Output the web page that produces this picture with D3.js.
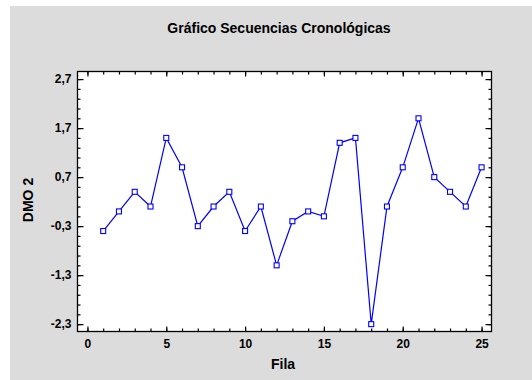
<!DOCTYPE html>
<html>
<head>
<meta charset="utf-8">
<script src="https://cdn.jsdelivr.net/npm/d3@7/dist/d3.min.js"></script>
<style>
  html, body { margin: 0; padding: 0; background: #ffffff; }
  svg { display: block; }
  text { font-family: "Liberation Sans", Arial, sans-serif; font-weight: bold; fill: #000; }
</style>
</head>
<body>
<svg id="chart" width="532" height="380"></svg>
<script>
// Series: DMO 2 per row (Fila)
const fila = [1, 2, 3, 4, 5, 6, 7, 8, 9, 10, 11, 12, 13, 14, 15, 16, 17, 18, 19, 20, 21, 22, 23, 24, 25];
const dmo2 = [-0.4, 0.0, 0.4, 0.1, 1.5, 0.9, -0.3, 0.1, 0.4, -0.4, 0.1, -1.1, -0.2, 0.0, -0.1,
              1.4, 1.5, -2.3, 0.1, 0.9, 1.9, 0.7, 0.4, 0.1, 0.9];

// Axis ticks
const xTicks = [0, 5, 10, 15, 20, 25];
const xMinor = d3.range(0, 26, 1);
const yTicks = [-2.3, -1.3, -0.3, 0.7, 1.7, 2.7];
const yMinor = d3.range(-2.3, 2.71, 0.2).map(v => +v.toFixed(1));

const title = "Gráfico Secuencias Cronológicas";
const xLabel = "Fila";
const yLabel = "DMO 2";

const svg = d3.select("#chart");
const W = 532, H = 380;

// grey panel
svg.append("rect").attr("x", 10).attr("y", 6).attr("width", W - 10).attr("height", H - 6)
  .attr("fill", "#dcdcdc");

const plot = { left: 77.5, right: 491.5, top: 71.5, bottom: 331.5 };

const x = d3.scaleLinear().domain([-0.63, 25.63]).range([plot.left, plot.right]);
const y = d3.scaleLinear().domain([-2.45, 2.855]).range([plot.bottom, plot.top]);

svg.append("rect")
  .attr("x", plot.left).attr("y", plot.top)
  .attr("width", plot.right - plot.left).attr("height", plot.bottom - plot.top)
  .attr("fill", "#ffffff").attr("stroke", "#000").attr("stroke-width", 1.3);

const fmt = d => d.toFixed(1).replace(".", ",");

function styleAxis(g) {
  g.select(".domain").remove();
  g.selectAll(".tick line").attr("stroke", "#000").attr("stroke-width", 1.2);
  g.selectAll("text").style("font-size", "12px").style("font-family", "Liberation Sans, Arial, sans-serif")
    .style("font-weight", "bold").attr("fill", "#000");
}

// minor ticks (all four sides, pointing inward)
svg.append("g").attr("transform", `translate(0,${plot.bottom})`)
  .call(d3.axisBottom(x).tickValues(xMinor).tickSize(-3).tickFormat(""))
  .call(styleAxis);
svg.append("g").attr("transform", `translate(0,${plot.top})`)
  .call(d3.axisTop(x).tickValues(xMinor).tickSize(-3).tickFormat(""))
  .call(styleAxis);
svg.append("g").attr("transform", `translate(${plot.left},0)`)
  .call(d3.axisLeft(y).tickValues(yMinor).tickSize(-3).tickFormat(""))
  .call(styleAxis);
svg.append("g").attr("transform", `translate(${plot.right},0)`)
  .call(d3.axisRight(y).tickValues(yMinor).tickSize(-3).tickFormat(""))
  .call(styleAxis);

// major ticks
svg.append("g").attr("transform", `translate(0,${plot.bottom})`)
  .call(d3.axisBottom(x).tickValues(xTicks).tickSize(-5).tickPadding(8).tickFormat(d3.format("d")))
  .call(styleAxis);
svg.append("g").attr("transform", `translate(0,${plot.top})`)
  .call(d3.axisTop(x).tickValues(xTicks).tickSize(-5).tickFormat(""))
  .call(styleAxis);
svg.append("g").attr("transform", `translate(${plot.left},0)`)
  .call(d3.axisLeft(y).tickValues(yTicks).tickSize(-6).tickPadding(6).tickFormat(fmt))
  .call(styleAxis);
svg.append("g").attr("transform", `translate(${plot.right},0)`)
  .call(d3.axisRight(y).tickValues(yTicks).tickSize(-6).tickFormat(""))
  .call(styleAxis);

// series line
const line = d3.line().x((d, i) => x(fila[i])).y(d => y(d));
svg.append("path").datum(dmo2)
  .attr("d", line)
  .attr("fill", "none").attr("stroke", "#0000ff").attr("stroke-width", 1.2);

// square markers
svg.append("g").selectAll("rect").data(dmo2).join("rect")
  .attr("x", (d, i) => x(fila[i]) - 2.5)
  .attr("y", d => y(d) - 2.5)
  .attr("width", 5).attr("height", 5)
  .attr("fill", "#ffffff").attr("stroke", "#0000ff").attr("stroke-width", 1.1);

// titles
svg.append("text").attr("x", 279).attr("y", 33).attr("text-anchor", "middle")
  .style("font-size", "14px").text(title);
svg.append("text").attr("x", 283).attr("y", 369).attr("text-anchor", "middle")
  .style("font-size", "14px").text(xLabel);
svg.append("text").attr("transform", "translate(33,200) rotate(-90)").attr("text-anchor", "middle")
  .style("font-size", "14px").text(yLabel);
</script>
</body>
</html>
